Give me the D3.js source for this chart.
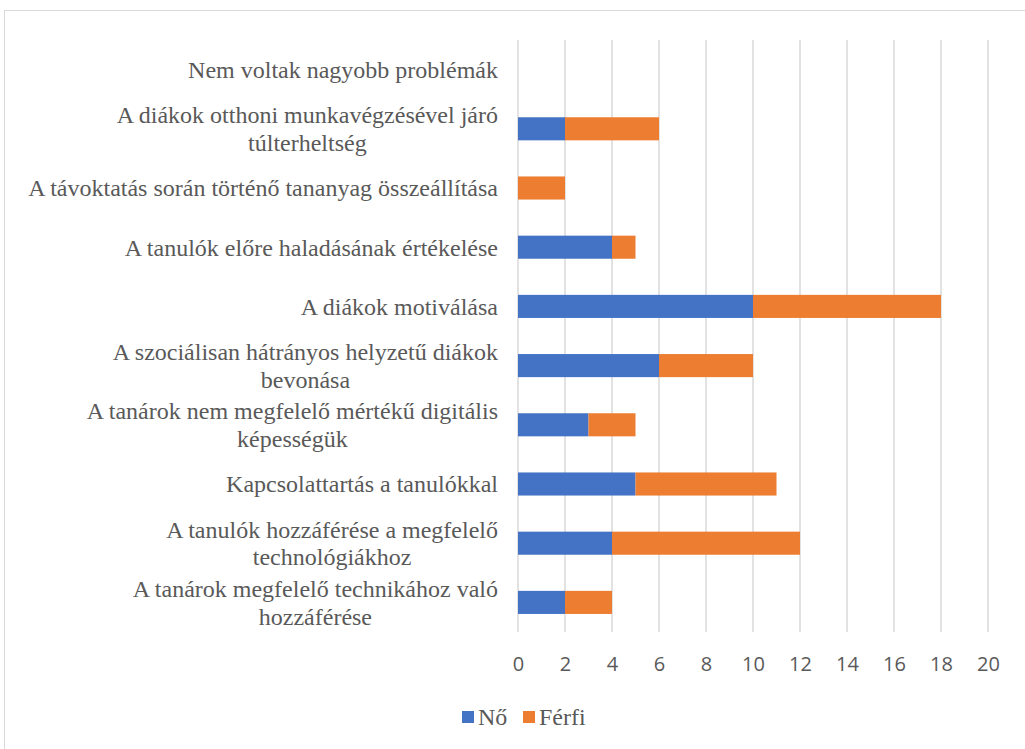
<!DOCTYPE html>
<html>
<head>
<meta charset="utf-8">
<script src="https://cdn.jsdelivr.net/npm/d3@7"></script>
<style>
  body { margin: 0; background: #fff; }
  svg { display: block; }
  text.serif, text.serif tspan { font-family: "Liberation Serif", "Times New Roman", serif; }
  text.sans { font-family: "Open Sans", "Liberation Sans", sans-serif; }
</style>
</head>
<body>
<div class="chart"></div>
<script>
// categories top -> bottom, each label split in lines as on the picture
const categories = [
  ["Nem voltak nagyobb problémák"],
  ["A diákok otthoni munkavégzésével járó", "túlterheltség"],
  ["A távoktatás során történő tananyag összeállítása"],
  ["A tanulók előre haladásának értékelése"],
  ["A diákok motiválása"],
  ["A szociálisan hátrányos helyzetű diákok", "bevonása"],
  ["A tanárok nem megfelelő mértékű digitális", "képességük"],
  ["Kapcsolattartás a tanulókkal"],
  ["A tanulók hozzáférése a megfelelő", "technológiákhoz"],
  ["A tanárok megfelelő technikához való", "hozzáférése"]
]
const no =    [0, 2, 0, 4, 10, 6, 3, 5, 4, 2]
const ferfi = [0, 4, 2, 1, 8, 4, 2, 6, 8, 2]
const seriesNames = ["Nő", "Férfi"]
const colors = ["#4472c4", "#ed7d31"]
const xTicks = [0, 2, 4, 6, 8, 10, 12, 14, 16, 18, 20]

const W = 1025, H = 749
const margin = ({top: 40, right: 37, bottom: 117, left: 518})
const width = W - margin.left - margin.right
const height = H - margin.top - margin.bottom

const rows = categories.map((c, i) => ({key: i, label: c, "Nő": no[i], "Férfi": ferfi[i]}))
const stacked = d3.stack().keys(seriesNames)(rows)

const xScale = d3.scaleLinear().domain([0, 20]).range([0, width])
const yScale = d3.scaleBand()
    .domain(rows.map(d => d.key))
    .range([0, height])
    .paddingInner(0.61)
    .paddingOuter(0.305)
const color = d3.scaleOrdinal().domain(seriesNames).range(colors)

const root = d3.select(".chart").append("svg")
    .attr("width", W)
    .attr("height", H)

// chart border
root.append("rect")
    .attr("x", 4.5).attr("y", 10.5)
    .attr("width", 1040).attr("height", 760)
    .attr("fill", "none")
    .attr("stroke", "#d9d9d9")
    .attr("stroke-width", 1)

const svg = root.append("g")
    .attr("transform", `translate(${margin.left},${margin.top})`)

// gridlines
svg.append("g")
    .selectAll("line")
    .data(xTicks)
    .enter()
    .append("line")
        .attr("x1", d => xScale(d)).attr("x2", d => xScale(d))
        .attr("y1", 0).attr("y2", height)
        .attr("stroke", "#d9d9d9")
        .attr("stroke-width", 1.5)

// bars
svg.append("g")
    .selectAll("g")
    .data(stacked)
    .enter()
    .append("g")
        .attr("fill", d => color(d.key))
    .selectAll("rect")
    .data(d => d)
    .enter()
    .append("rect")
        .attr("x", d => xScale(d[0]))
        .attr("y", d => yScale(d.data.key))
        .attr("width", d => xScale(d[1]) - xScale(d[0]))
        .attr("height", yScale.bandwidth())

// x axis tick labels
const xAxis = d3.axisBottom(xScale).tickValues(xTicks).tickSize(0).tickPadding(25)
const gx = svg.append("g")
    .attr("transform", `translate(0, ${height})`)
    .call(xAxis)
gx.select(".domain").remove()
gx.attr("font-family", "Open Sans").attr("font-size", 20)
gx.selectAll("text")
    .attr("class", "sans")
    .attr("fill", "#595959")

// category labels
const lineH = 27.5
const labels = svg.append("g")
    .attr("font-size", 24)
    .selectAll("text")
    .data(rows)
    .enter()
    .append("text")
        .attr("class", "serif")
        .attr("fill", "#595959")
        .attr("text-anchor", "middle")

labels.each(function(d) {
    const t = d3.select(this)
    const cy = yScale(d.key) + yScale.bandwidth() / 2
    const n = d.label.length
    d.label.forEach((s, j) => {
        t.append("tspan")
            .attr("y", cy + (j - (n - 1) / 2) * lineH)
            .attr("dy", "0.35em")
            .text(s)
    })
    const w = d3.max(t.selectAll("tspan").nodes(), n => n.getComputedTextLength())
    t.selectAll("tspan").attr("x", -20 - w / 2)
})

// legend
const legend = root.append("g")
    .attr("transform", `translate(462, 717)`)
    .attr("font-size", 24)
const legendX = [0, 61]
const items = legend.selectAll("g")
    .data(seriesNames)
    .enter()
    .append("g")
        .attr("transform", (_, i) => `translate(${legendX[i]},0)`)
items.append("rect")
    .attr("x", 0).attr("y", -6)
    .attr("width", 12).attr("height", 12)
    .attr("fill", d => color(d))
items.append("text")
    .attr("class", "serif")
    .attr("x", 16)
    .attr("dy", "0.35em")
    .attr("fill", "#595959")
    .text(d => d)
</script>
</body>
</html>
